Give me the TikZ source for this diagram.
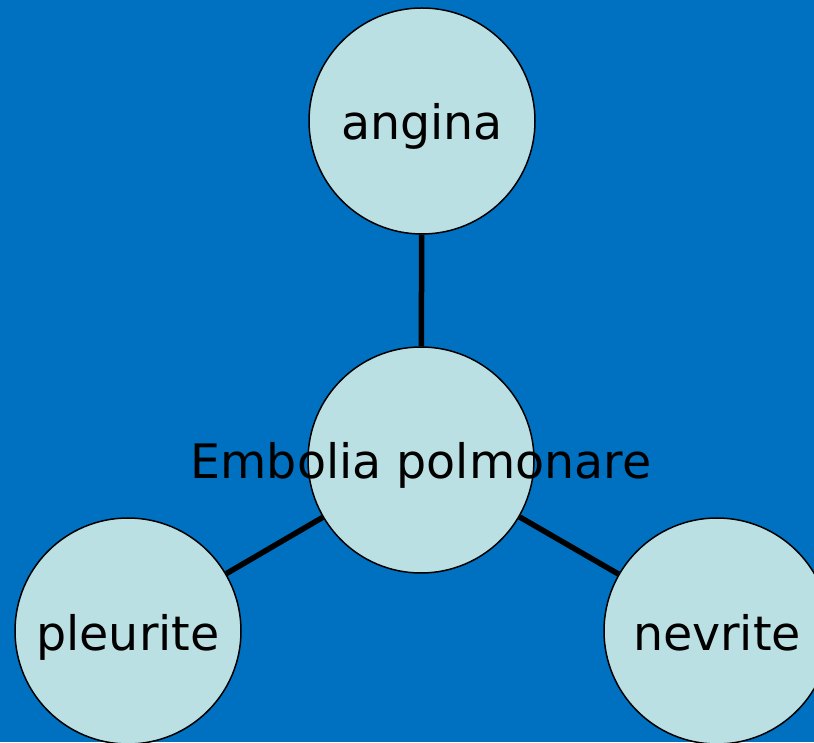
\documentclass[tikz,border=0pt]{standalone}
\usepackage{fontspec}
\newfontfamily\lblfont{DejaVu Sans}
\definecolor{slideblue}{RGB}{0,112,192}
\definecolor{bubble}{RGB}{187,224,227}
\usetikzlibrary{positioning}

\begin{document}
\begin{tikzpicture}[x=1pt, y=1pt,
      disease/.style={circle, draw=black, line width=1.5pt, fill=bubble,
                      minimum size=226pt, inner sep=0pt},
      txt/.style={font=\lblfont\fontsize{47.5}{56}\selectfont, inner sep=0pt,
                  anchor=base, yshift=-19pt},
      link/.style={line width=5.5pt, black}]

    % canvas
    \useasboundingbox (0,0) rectangle (814,742);
    \clip (0,0) rectangle (814,742);
    \fill[slideblue] (0,0) rectangle (814,742);

    % === circles ===
    \node[disease] (angina)   at (422,621) {};
    \node[disease] (embolia)  at (421,282) {};
    \node[disease] (pleurite) at (128,111) {};
    \node[disease] (nevrite)  at (717,111) {};

    % === labels ===
    \node[txt] (anginatxt)   at (angina)   {angina};
    \node[txt] (emboliatxt)  at (embolia)  {Embolia polmonare};
    \node[txt] (pleuritetxt) at (pleurite) {pleurite};
    \node[txt] (nevritetxt)  at (nevrite)  {nevrite};

    % === links ===
    \draw[link] (embolia) -- (angina);
    \draw[link] (embolia) -- (pleurite);
    \draw[link] (embolia) -- (nevrite);

\end{tikzpicture}
\end{document}
